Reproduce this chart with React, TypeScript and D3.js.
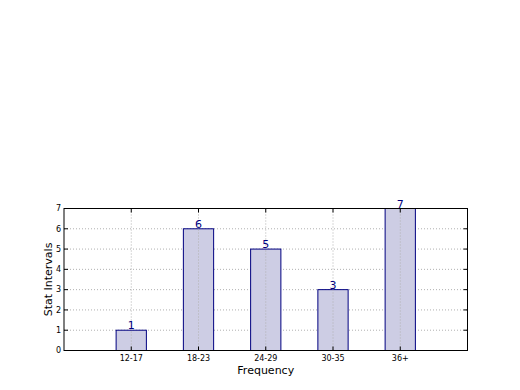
import React from 'react';
import * as d3 from 'd3';

const categories = ['12-17', '18-23', '24-29', '30-35', '36+'];
const values = [1, 6, 5, 3, 7];
const yTicks = [0, 1, 2, 3, 4, 5, 6, 7];

const W = 520;
const H = 390;
const M = { left: 64, right: 467.5, top: 208.5, bottom: 350.5 };
const FONT = 'DejaVu Sans, sans-serif';

export default function App() {
  // data units: bars at 0..4, axis from -1 to 5 (like matplotlib's default)
  const x = d3.scaleLinear().domain([-1, categories.length]).range([M.left, M.right]);
  const y = d3.scaleLinear().domain([0, 7]).range([M.bottom, M.top]);
  const barW = x(0.45) - x(0);

  return (
    <svg width={W} height={H} style={{ position: 'absolute', left: 0, top: 0, background: '#fff' }}>
      {/* grid */}
      {yTicks.map(t => (
        <line key={'gy' + t} x1={M.left} x2={M.right} y1={y(t)} y2={y(t)}
          stroke="#b0b0b0" strokeWidth={1} strokeDasharray="1,2" />
      ))}

      {/* bars */}
      {values.map((v, i) => (
        <rect key={'b' + i} x={x(i) - barW / 2} y={y(v)} width={barW} height={y(0) - y(v)}
          fill="#cdcde4" stroke="#000080" strokeWidth={1} />
      ))}

      {categories.map((c, i) => (
        <line key={'gx' + i} x1={x(i)} x2={x(i)} y1={M.top} y2={M.bottom}
          stroke="#b0b0b0" strokeWidth={1} strokeDasharray="1,2" />
      ))}

      {/* value labels */}
      {values.map((v, i) => (
        <text key={'l' + i} x={x(i)} y={y(v) - 1} textAnchor="middle"
          fontFamily={FONT} fontSize={11} fill="#000080">{v}</text>
      ))}

      {/* frame */}
      <rect x={M.left} y={M.top} width={M.right - M.left} height={M.bottom - M.top}
        fill="none" stroke="#000" strokeWidth={1} />

      {/* y ticks */}
      {yTicks.map(t => (
        <g key={'yt' + t}>
          <line x1={M.left} x2={M.left + 4} y1={y(t)} y2={y(t)} stroke="#000" />
          <line x1={M.right} x2={M.right - 4} y1={y(t)} y2={y(t)} stroke="#000" />
          <text x={M.left - 3} y={y(t)} dy="0.35em" textAnchor="end"
            fontFamily={FONT} fontSize={8} fill="#000">{t}</text>
        </g>
      ))}

      {/* x ticks */}
      {categories.map((c, i) => (
        <g key={'xt' + i}>
          <line x1={x(i)} x2={x(i)} y1={M.bottom} y2={M.bottom - 4} stroke="#000" />
          <line x1={x(i)} x2={x(i)} y1={M.top} y2={M.top + 4} stroke="#000" />
          <text x={x(i)} y={M.bottom + 10} textAnchor="middle"
            fontFamily={FONT} fontSize={8} fill="#000">{c}</text>
        </g>
      ))}

      {/* axis labels */}
      <text x={(M.left + M.right) / 2} y={374} textAnchor="middle"
        fontFamily={FONT} fontSize={11} fill="#000">Frequency</text>
      <text transform={`translate(52,${(M.top + M.bottom) / 2}) rotate(-90)`} textAnchor="middle"
        fontFamily={FONT} fontSize={11} fill="#000">Stat Intervals</text>
    </svg>
  );
}
